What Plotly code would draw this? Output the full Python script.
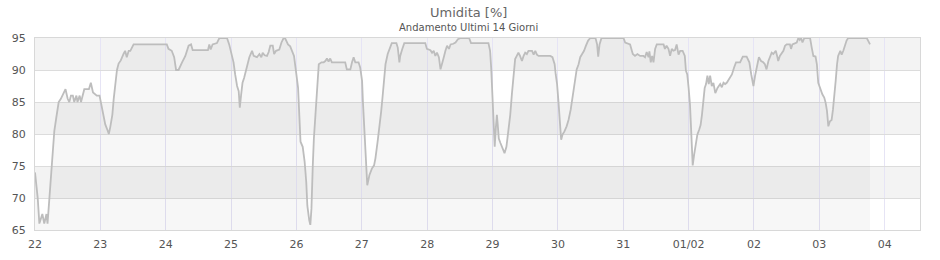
import pandas as pd
import plotly.graph_objects as go

# hours since 22 Jan 00:00
hours = [0, 1.0, 1.6, 2.7, 3.4, 4.2, 4.6, 5.3, 5.9, 6.6, 7.1, 7.8, 8.7, 9.5, 10.5, 11.2, 12.0, 12.6, 13.2, 13.9,
         14.4, 15.2, 15.6, 16.4, 16.9, 17.6, 18.1, 19.8, 20.5, 21.3, 22.7, 23.7, 24.2, 24.9, 25.8, 26.7, 27.1, 27.6,
         28.4, 28.9, 29.5, 30.1, 30.7, 31.5, 32.5, 33.1, 33.7, 34.4, 35.0, 35.6, 36.2, 48.4, 49.0, 50.2, 51.1, 51.8,
         52.7, 54.0, 55.2, 56.4, 57.3, 57.9, 63.5, 64.0, 64.5, 65.2, 66.8, 67.7, 70.5, 71.3, 72.1, 72.9, 73.5, 74.2,
         74.8, 75.2, 75.7, 76.2, 76.8, 77.4, 77.9, 78.7, 79.7, 80.3, 81.5, 82.4, 83.1, 83.6, 84.3, 85.2, 85.8, 86.4,
         87.3, 87.8, 88.5, 89.7, 90.5, 91.3, 91.9, 92.9, 93.7, 94.3, 95.1, 95.8, 96.6, 97.1, 97.5, 98.3, 99.0, 99.6,
         100.0, 100.7, 101.1, 101.5, 101.7, 102.0, 102.4, 102.9, 103.6, 104.2, 105.2, 106.0,
         106.6, 107.2, 107.8, 108.4, 109.0, 113.9, 114.5, 115.8, 116.4, 117.0, 117.6, 118.8, 119.4, 120.1, 120.4,
         120.9, 121.3, 121.6, 122.0, 122.8, 123.7, 124.5, 125.0, 125.8, 126.5, 127.1, 127.6, 128.2, 128.7, 129.5,
         130.2, 131.0, 132.7, 133.2, 133.8, 134.1, 134.8, 135.6, 143.3, 143.9, 145.2, 145.8, 146.4, 147.0, 147.6,
         148.3, 148.9, 149.5, 150.1, 150.7, 151.3, 152.0, 152.6, 153.6, 154.4, 155.3, 156.3, 159.4,
         160.1, 166.5, 167.1, 167.5, 168.0, 168.5, 168.8, 169.2, 169.6, 169.9, 170.3, 170.9, 171.6, 172.4, 173.1,
         173.9, 174.5, 175.1, 175.7, 176.3, 176.9, 177.5, 178.1, 178.8, 179.4, 180.0, 180.6, 181.2, 182.5, 183.1,
         183.7, 184.3, 184.9, 189.2, 190.0, 190.8, 191.2, 191.7, 192.2, 192.7, 193.2, 193.7, 194.4, 195.2, 195.9,
         196.7, 197.4, 198.1, 198.9, 199.6, 200.2, 200.9, 201.6, 202.3, 203.1, 203.9, 205.8, 206.4, 206.8, 207.3,
         208.0, 216.1,
         216.7, 218.5, 219.5, 220.3, 221.2, 222.2, 223.4, 224.0, 224.6, 225.3, 225.6, 226.1, 226.6, 227.1, 227.7,
         228.3, 230.8, 231.3, 231.9, 232.6, 233.2, 233.8, 234.4, 235.0, 235.6, 236.3, 236.9, 237.8, 238.6, 239.0,
         239.5, 240.0, 240.5, 240.9, 241.2, 241.5, 242.0, 242.5, 243.2, 243.9, 244.4, 244.9, 245.4, 245.9, 246.4,
         246.9, 247.4, 247.9, 248.5, 249.1, 249.8, 250.6, 251.6, 252.2, 252.8, 253.4, 254.0, 255.0, 255.9, 256.7,
         257.4, 258.9, 259.9, 261.3, 262.3, 263.0, 263.8, 264.4, 265.0, 265.8,
         266.6, 267.4, 268.0, 268.6, 269.3, 269.9, 270.5, 271.1, 272.0, 272.5, 272.9, 273.5, 274.2, 274.8, 275.4,
         276.0, 277.2, 277.6, 278.1, 278.8, 279.7, 280.3, 280.8, 281.3, 281.8, 282.5, 284.6, 285.2, 285.8, 286.6,
         287.1, 287.6, 288.3, 289.1, 289.8, 290.3, 290.8, 291.3, 291.9, 292.5, 293.0, 293.5, 294.0, 294.5, 294.9,
         295.7, 296.2, 296.8, 297.4, 298.0, 298.6, 305.4, 306.0, 306.6]

humidity = [74, 70, 66, 67.5, 66, 67.5, 66, 70, 74.5, 78, 80.5, 82.5, 85, 85.5, 86.5, 87, 85.5, 85, 86, 86,
            85, 86, 85, 86, 85, 86.5, 87, 87, 88, 86.5, 86, 86, 85, 83.5, 81.5, 80.5, 80, 81,
            83, 85.5, 88, 90, 91, 91.5, 92.5, 93, 92, 93, 93, 93.5, 94, 94, 93.3, 93, 92, 90,
            90, 91.2, 92.2, 93.8, 94, 93.1, 93.1, 94, 93.2, 94, 94.2, 95, 95, 94, 92.5, 91.2, 89.3, 87.5,
            86.7, 84.1, 86.2, 88, 88.8, 89.9, 90.9, 92, 93, 92.2, 92, 92.5, 92, 92.7, 92.3, 92.2, 92.8, 93.8,
            93.8, 92.5, 93, 93.2, 94.3, 95, 94.9, 94, 93.7, 93, 92.2, 89.9, 87.2, 82.5, 78.8, 78, 75.7, 72.5,
            68.8, 66.5, 65.8, 68.3, 72.5, 75.1, 79.3, 83, 87.2, 90.9, 91.2, 91.2,
            91.4, 91.8, 91.3, 91.8, 91.2, 91.2, 90.1, 90.1, 91.2, 92, 91.2, 91.2, 90.4, 88.3, 85.1,
            80.4, 76.2, 73.6, 72, 73.6, 74.6, 75.1, 76.2, 78.8, 80.9, 83.5, 85.7, 88.8, 90.9, 92.5,
            93.3, 94.2, 94.2, 93.5, 91.2, 92.2, 93.2, 94.2, 94.2, 93.3, 93.1, 92.7, 93, 92.2, 92.7,
            92, 90.1, 90.9, 92, 93, 93.8, 93.3, 94, 94.1, 94.3, 94.8, 95, 95,
            94.2, 94.2, 93, 90.4, 85.7, 83, 78, 80.9, 83, 81.5, 79.3, 78.6, 77.8, 77, 78,
            80.4, 83, 86.2, 89.3, 91.7, 92.2, 92.7, 92.2, 91.4, 92.2, 92.7, 92.5, 93, 93, 92.4,
            93, 92.4, 92.2, 92.2, 92, 90.9, 89.3, 87.8, 85.1, 82, 79.1, 79.9, 80.4, 81.2, 82.2,
            83.8, 85.9, 88.3, 90.1, 90.9, 92, 92.5, 93, 93.8, 94.6, 95, 95, 94, 92.1, 94,
            95, 95,
            94.3, 94, 92.5, 92.2, 92.5, 92.2, 92.2, 92, 92.8, 92, 92.9, 91.2, 92.2, 91.2, 93.3,
            94, 94, 93.3, 93.8, 93.3, 92.2, 93.3, 93, 93.1, 94, 92.4, 93, 93, 92.2, 89.9,
            89.3, 87.2, 84.6, 80.9, 77.8, 75.1, 76.7, 78.3, 79.9, 80.7, 81.4, 83, 85.7, 87.2, 87.8,
            89.1, 87.8, 89.1, 87.5, 88, 86.4, 87.2, 87.8, 87.3, 88, 87.8, 88, 88.8, 89.3, 90.4,
            91.2, 91.2, 92.1, 92.1, 91.2, 89.3, 87.5, 89.1, 90.4, 92,
            91.4, 91.2, 90.9, 90.1, 91.4, 92, 92.7, 92.5, 93, 92.2, 91.4, 92.2, 92.7, 93, 93.8,
            94, 94, 93.3, 94, 94.1, 94.3, 95, 94.7, 95, 94.3, 95, 95, 93.5, 92.2, 92.1,
            90.9, 88, 87, 86.2, 85.7, 84.9, 83.6, 81.2, 82, 82.2, 83.8, 85.7, 88.3, 90.9, 92.2,
            93, 92.4, 93, 93.8, 94.6, 95, 95, 94.5, 94]

tick_dates = ["2024-01-22", "2024-01-23", "2024-01-24", "2024-01-25", "2024-01-26", "2024-01-27",
              "2024-01-28", "2024-01-29", "2024-01-30", "2024-01-31", "2024-02-01", "2024-02-02",
              "2024-02-03", "2024-02-04"]
tick_labels = ["22", "23", "24", "25", "26", "27", "28", "29", "30", "31", "01/02", "02", "03", "04"]
y_ticks = [65, 70, 75, 80, 85, 90, 95]
band_ranges = [(90, 95), (80, 85), (70, 75)]

base = pd.Timestamp("2024-01-22")
times = base + pd.to_timedelta(hours, unit="h")

fig = go.Figure()
fig.add_trace(go.Scatter(
    x=times, y=humidity, mode="lines",
    line=dict(color="#bdbdbd", width=1.8),
    fill="tozeroy", fillcolor="rgba(0,0,0,0.03)",
    hoverinfo="skip", showlegend=False,
))

for lo, hi in band_ranges:
    fig.add_shape(type="rect", xref="paper", yref="y", x0=0, x1=1, y0=lo, y1=hi,
                  fillcolor="#f3f3f3", line=dict(width=0), layer="below")

font = "DejaVu Sans, sans-serif"
fig.add_annotation(text="Umidita [%]", xref="paper", yref="paper", x=0.49, y=1.135,
                   showarrow=False, font=dict(family=font, size=13, color="#666666"),
                   xanchor="center", yanchor="middle")
fig.add_annotation(text="Andamento Ultimi 14 Giorni", xref="paper", yref="paper", x=0.49, y=1.057,
                   showarrow=False, font=dict(family=font, size=10, color="#555555"),
                   xanchor="center", yanchor="middle")

fig.update_layout(
    width=940, height=260,
    margin=dict(l=35, r=20, t=38, b=30, pad=0, autoexpand=False),
    paper_bgcolor="white", plot_bgcolor="white",
    font=dict(family=font, size=11, color="#555555"),
    xaxis=dict(
        range=[base, base + pd.Timedelta(hours=13.54 * 24)],
        tickvals=pd.to_datetime(tick_dates), ticktext=tick_labels,
        showgrid=True, gridcolor="#e6e4f5", gridwidth=1,
        showline=True, linecolor="#d8d8d8", linewidth=1, mirror=True,
        zeroline=False, ticks="", ticklabelstandoff=4, automargin=False,
        tickfont=dict(size=11, color="#555555"),
    ),
    yaxis=dict(
        range=[65, 95], tickvals=y_ticks,
        showgrid=True, gridcolor="#dcdcdc", gridwidth=1,
        showline=True, linecolor="#d8d8d8", linewidth=1, mirror=True,
        zeroline=False, ticks="", ticklabelstandoff=6, automargin=False,
        tickfont=dict(size=11, color="#555555"),
    ),
)

fig.write_html("out.html")
